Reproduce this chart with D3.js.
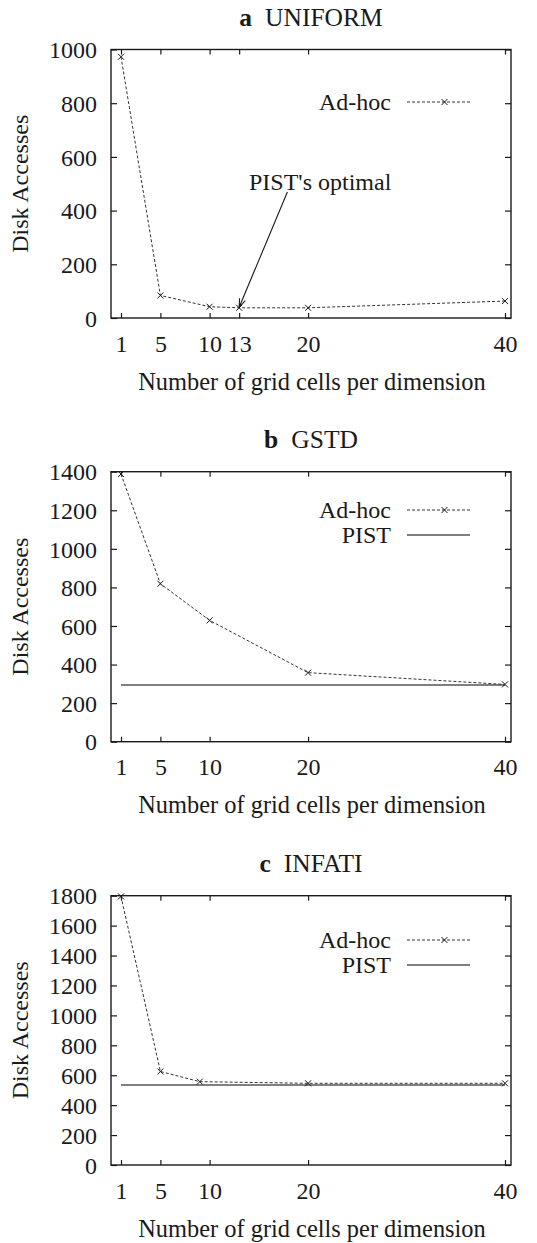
<!DOCTYPE html>
<html>
<head>
<meta charset="utf-8">
<script src="https://cdn.jsdelivr.net/npm/d3@7"></script>
<style>
  html, body { margin: 0; padding: 0; background: #fff; }
  svg { display: block; }
  svg text { font-family: "Liberation Serif", "Times New Roman", Times, Tinos, "Noto Serif", "DejaVu Serif", FreeSerif, serif; }
</style>
</head>
<body>
<div id="chart"></div>
<script>
// panel a: UNIFORM
const xA = [1, 5, 10, 13, 20, 40];
const adhocA = [973, 84, 42, 38, 38, 63];
const xTicksA = [1, 5, 10, 13, 20, 40];
const yTicksA = [0, 200, 400, 600, 800, 1000];

// panel b: GSTD
const xB = [1, 5, 10, 20, 40];
const adhocB = [1388, 819, 629, 358, 297];
const pistB = 294;
const xTicksB = [1, 5, 10, 20, 40];
const yTicksB = [0, 200, 400, 600, 800, 1000, 1200, 1400];

// panel c: INFATI
const xC = [1, 5, 9, 20, 40];
const adhocC = [1795, 625, 557, 546, 546];
const pistC = 535;
const xTicksC = [1, 5, 10, 20, 40];
const yTicksC = [0, 200, 400, 600, 800, 1000, 1200, 1400, 1600, 1800];

const seriesNames = ["Ad-hoc", "PIST"];
const xTitle = "Number of grid cells per dimension";
const yTitle = "Disk Accesses";

const WIDTH = 537, HEIGHT = 1243;
const FRAME_L = 111, FRAME_R = 511;
const INK = "#1a1a1a";

const panels = [
  { tag: "a", name: "UNIFORM", xs: xA, adhoc: adhocA, pist: null, xTicks: xTicksA, yTicks: yTicksA,
    top: 49.5, bottom: 318, legendY: 102,
    note: { text: "PIST's optimal", at: [14, 477], from: [17.9, 469], to: [13, 40] } },
  { tag: "b", name: "GSTD", xs: xB, adhoc: adhocB, pist: pistB, xTicks: xTicksB, yTicks: yTicksB,
    top: 471.7, bottom: 741.7, legendY: 510, note: null },
  { tag: "c", name: "INFATI", xs: xC, adhoc: adhocC, pist: pistC, xTicks: xTicksC, yTicks: yTicksC,
    top: 895.7, bottom: 1165, legendY: 940, note: null }
];

const svg = d3.select("#chart").append("svg")
  .attr("width", WIDTH)
  .attr("height", HEIGHT);

const x = d3.scaleLinear().domain([1, 40]).range([121, 505]);

const drawCross = (g, px, py, r) => {
  g.append("path")
    .attr("d", `M${px - r},${py - r}L${px + r},${py + r}M${px - r},${py + r}L${px + r},${py - r}`)
    .attr("stroke", INK)
    .attr("stroke-width", 1)
    .attr("fill", "none");
};

panels.forEach((p) => {
  const g = svg.append("g");
  const yMax = d3.max(p.yTicks);
  const y = d3.scaleLinear().domain([0, yMax]).range([p.bottom, p.top]);

  // inward ticks, gnuplot-style (mirrored on all four sides)
  const bottomAxis = g.append("g")
    .attr("transform", `translate(0,${p.bottom})`)
    .call(d3.axisBottom(x).tickValues(p.xTicks).tickSize(-5).tickPadding(0).tickFormat(d3.format("d")));
  bottomAxis.selectAll("text").attr("dy", null).attr("y", 33.5);

  g.append("g")
    .attr("transform", `translate(0,${p.top})`)
    .call(d3.axisTop(x).tickValues(p.xTicks).tickSize(-5).tickFormat(""));

  const leftAxis = g.append("g")
    .attr("transform", `translate(${FRAME_L},0)`)
    .call(d3.axisLeft(y).tickValues(p.yTicks).tickSize(-6).tickPadding(14).tickFormat(d3.format("d")));
  leftAxis.selectAll("text").attr("dy", "0.34em");

  g.append("g")
    .attr("transform", `translate(${FRAME_R},0)`)
    .call(d3.axisRight(y).tickValues(p.yTicks).tickSize(-6).tickFormat(""));

  g.selectAll(".domain").remove();
  g.selectAll("g").attr("font-family", null);
  g.selectAll(".tick line").attr("stroke", INK).attr("stroke-width", 1.2);
  g.selectAll(".tick text")
    .attr("fill", INK)
    .attr("font-size", 24);

  // frame
  g.append("rect")
    .attr("x", FRAME_L)
    .attr("y", p.top)
    .attr("width", FRAME_R - FRAME_L)
    .attr("height", p.bottom - p.top)
    .attr("fill", "none")
    .attr("stroke", INK)
    .attr("stroke-width", 1.4);

  // title
  const title = g.append("text")
    .attr("x", (FRAME_L + FRAME_R) / 2)
    .attr("y", p.top - 23.5)
    .attr("text-anchor", "middle")
    .attr("font-size", 25.5)
    .attr("fill", INK);
  title.append("tspan").attr("font-weight", "bold").text(p.tag);
  title.append("tspan").attr("dx", 13).text(p.name);

  // axis titles
  g.append("text")
    .attr("x", (FRAME_L + FRAME_R) / 2 + 1)
    .attr("y", p.bottom + 71.5)
    .attr("text-anchor", "middle")
    .attr("font-size", 24.4)
    .attr("fill", INK)
    .text(xTitle);

  g.append("text")
    .attr("transform", `translate(28,${(p.top + p.bottom) / 2}) rotate(-90)`)
    .attr("text-anchor", "middle")
    .attr("font-size", 24)
    .attr("fill", INK)
    .text(yTitle);

  // PIST reference line
  if (p.pist !== null) {
    g.append("line")
      .attr("x1", x(1)).attr("x2", x(40))
      .attr("y1", y(p.pist)).attr("y2", y(p.pist))
      .attr("stroke", "#555")
      .attr("stroke-width", 1.5);
  }

  // Ad-hoc series
  const pts = p.xs.map((v, i) => [v, p.adhoc[i]]);
  g.append("path")
    .datum(pts)
    .attr("d", d3.line().x((d) => x(d[0])).y((d) => y(d[1])))
    .attr("fill", "none")
    .attr("stroke", "#333")
    .attr("stroke-width", 1)
    .attr("stroke-dasharray", "3,2");
  pts.forEach((d) => drawCross(g, x(d[0]), y(d[1]), 3));

  // legend
  const legX0 = 407, legX1 = 470, legTextX = 391;
  const entries = p.pist !== null ? seriesNames : seriesNames.slice(0, 1);
  entries.forEach((name, i) => {
    const ly = p.legendY + i * 25;
    g.append("text")
      .attr("x", legTextX)
      .attr("y", ly + 8)
      .attr("text-anchor", "end")
      .attr("font-size", 24)
      .attr("fill", INK)
      .text(name);
    if (name === "Ad-hoc") {
      g.append("line")
        .attr("x1", legX0).attr("x2", legX1)
        .attr("y1", ly).attr("y2", ly)
        .attr("stroke", "#333")
        .attr("stroke-width", 1)
        .attr("stroke-dasharray", "3,2");
      drawCross(g, (legX0 + legX1) / 2 + 6, ly, 3);
    } else {
      g.append("line")
        .attr("x1", legX0).attr("x2", legX1)
        .attr("y1", ly).attr("y2", ly)
        .attr("stroke", "#555")
        .attr("stroke-width", 1.5);
    }
  });

  // annotation with arrow
  if (p.note) {
    const n = p.note;
    g.append("text")
      .attr("x", x(n.at[0]))
      .attr("y", y(n.at[1]))
      .attr("font-size", 24)
      .attr("fill", INK)
      .text(n.text);
    const x0 = x(n.from[0]), y0 = y(n.from[1]);
    const x1 = x(n.to[0]), y1 = y(n.to[1]);
    const ang = Math.atan2(y1 - y0, x1 - x0);
    const len = 9, spread = 0.35;
    g.append("path")
      .attr("d",
        `M${x0},${y0}L${x1},${y1}` +
        `M${x1 - len * Math.cos(ang - spread)},${y1 - len * Math.sin(ang - spread)}L${x1},${y1}` +
        `L${x1 - len * Math.cos(ang + spread)},${y1 - len * Math.sin(ang + spread)}`)
      .attr("fill", "none")
      .attr("stroke", INK)
      .attr("stroke-width", 1.1);
  }
});
</script>
</body>
</html>
